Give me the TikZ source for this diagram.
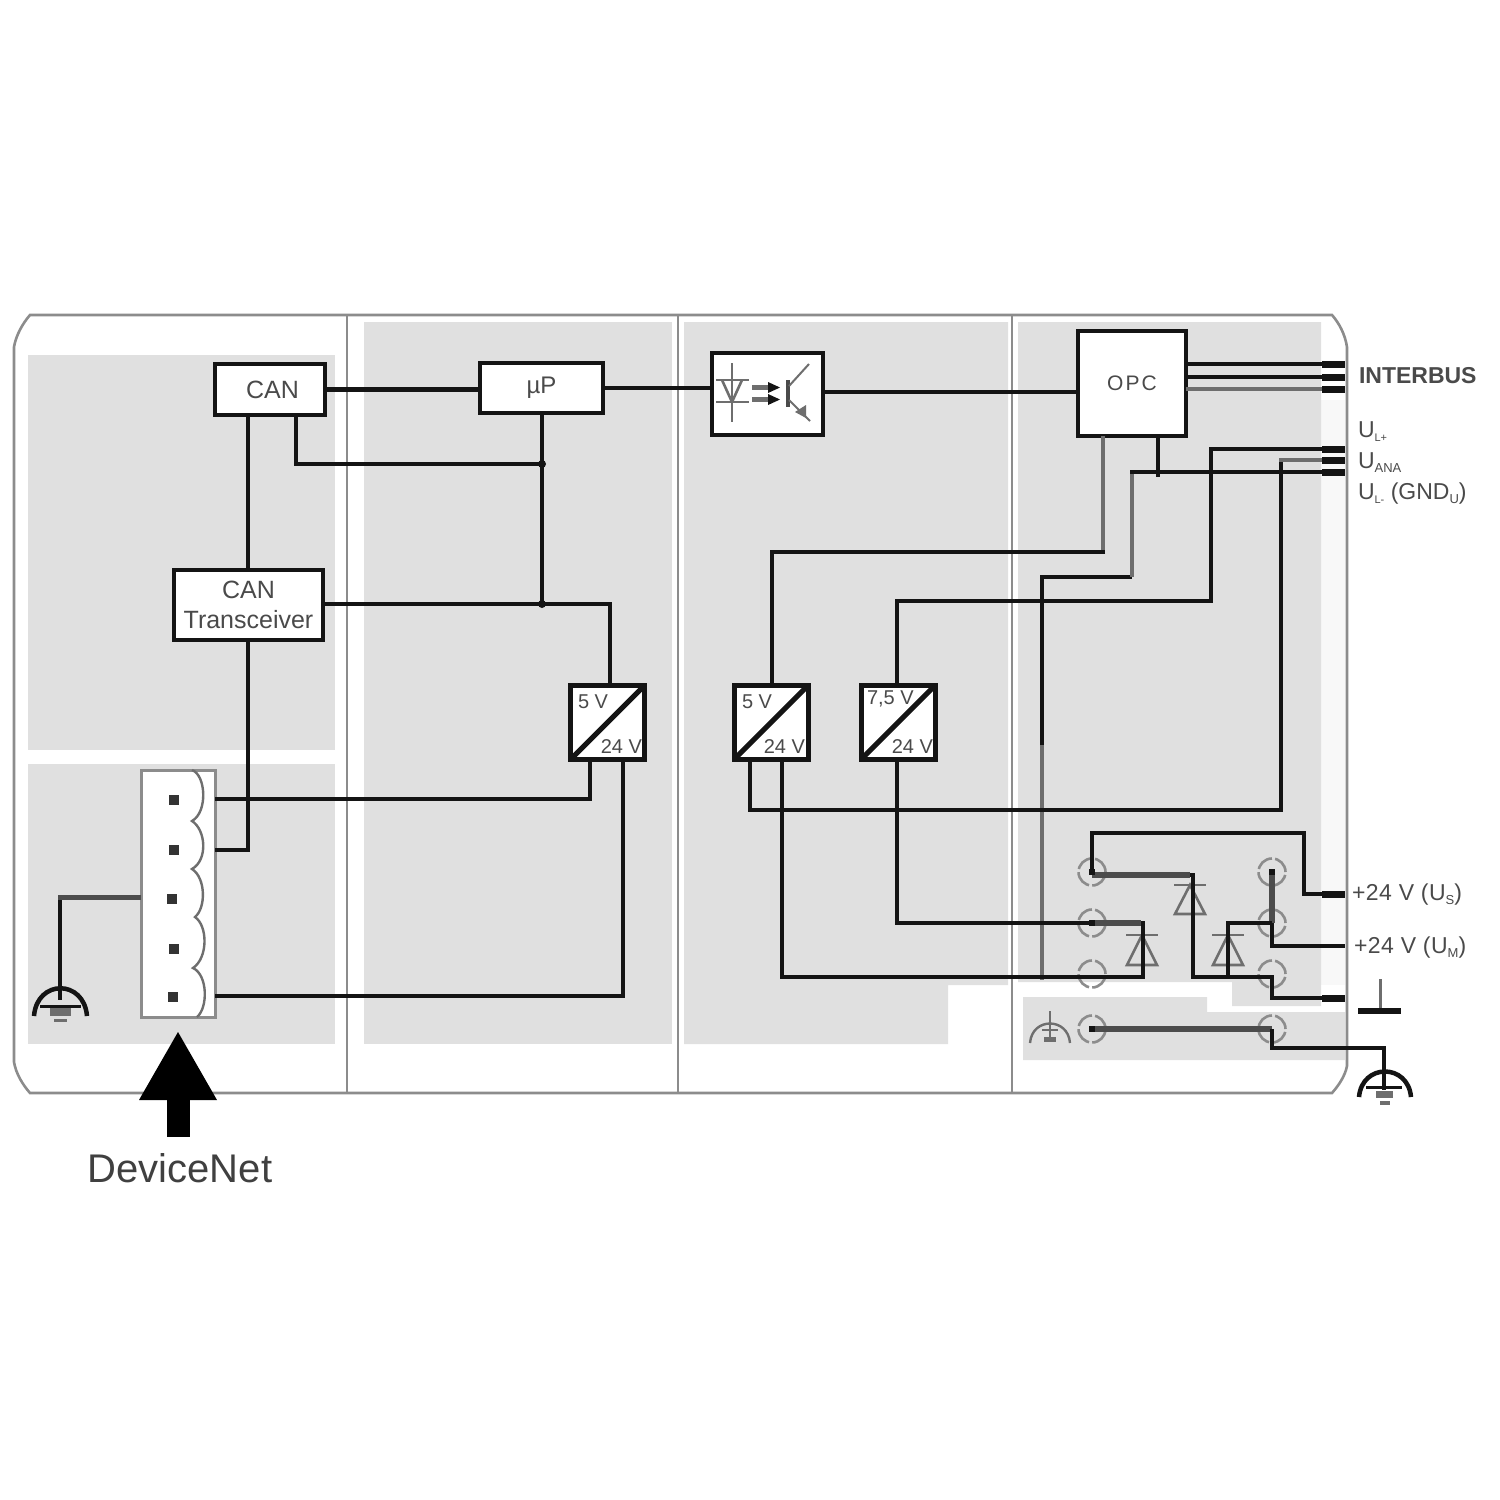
\documentclass[tikz,border=0pt]{standalone}
\usepackage{fontspec}
\setmainfont{Liberation Sans}
\definecolor{panel}{HTML}{E0E0E0}
\definecolor{panellight}{HTML}{F8F8F8}
\definecolor{frameg}{HTML}{8C8C8C}
\definecolor{inkk}{HTML}{141414}
\definecolor{textg}{HTML}{4A4A4A}
\definecolor{midg}{HTML}{6E6E6E}
\newcommand{\fsz}[1]{\fontsize{#1}{#1}\selectfont}
\tikzset{
  x=1pt,y=-1pt,
  wire/.style={draw=inkk,line width=4.2pt,line join=miter},
  thinwire/.style={draw=inkk,line width=3.4pt},
  softwire/.style={draw=midg,line width=4pt},
  heavy/.style={draw=black!70,line width=6pt},
  endblock/.style={draw=inkk,line width=7pt},
  frameline/.style={draw=frameg,line width=2.6pt},
  blockbox/.style={draw=inkk,fill=white,line width=4.5pt,inner sep=0pt,outer sep=0pt,text=textg,align=center},
  conv/.style={draw=inkk,fill=white,line width=5pt,minimum width=74pt,minimum height=74pt,inner sep=0pt,outer sep=0pt},
  terminal/.style={circle,draw=frameg,line width=2.6pt,dash pattern=on 18pt off 3.2pt,minimum size=27pt,inner sep=0pt,outer sep=0pt},
  pin/.style={fill=inkk,minimum size=6pt,inner sep=0pt,outer sep=0pt},
  conpin/.style={fill=black!80,minimum size=10pt,inner sep=0pt,outer sep=0pt},
  junction/.style={circle,fill=inkk,minimum size=8pt,inner sep=0pt},
  lab/.style={text=textg,inner sep=0pt,outer sep=0pt},
  diode/.style={draw=midg,line width=2.6pt,line join=miter},
}
\begin{document}
\begin{tikzpicture}
\useasboundingbox (0,0) rectangle (1500,1500);
\fill[white] (0,0) rectangle (1500,1500);
% ---- grey panels
\fill[panel] (28,355) rectangle (335,750);
\fill[panel] (28,764) rectangle (335,1044);
\fill[panel] (364,322) rectangle (672,1044);
\fill[panel] (684,322) -- (1008,322) -- (1008,985) -- (948,985) -- (948,1044) -- (684,1044) -- cycle;
\fill[panellight] (1321,400) rectangle (1345,985);
\fill[panel] (1018,322) -- (1321,322) -- (1321,1006) -- (1232,1006) -- (1232,982) -- (1018,982) -- cycle;
\fill[panel] (1023,997) -- (1207,997) -- (1207,1012) -- (1345,1012) -- (1345,1060) -- (1023,1060) -- cycle;
% ---- frame and dividers
\draw[frameline] (30,315) -- (1332,315) .. controls (1339,323) and (1345,334) .. (1347,347) -- (1347,1066) .. controls (1345,1076) and (1339,1085) .. (1332,1093) -- (30,1093) .. controls (23,1085) and (16,1074) .. (14,1062) -- (14,347) .. controls (16,335) and (23,323) .. (30,315) -- cycle;
\draw[frameline] (347,315) -- (347,1093);
\draw[frameline] (678,315) -- (678,1093);
\draw[frameline] (1012,315) -- (1012,1093);
% ---- coordinates at the right edge
\coordinate (ib1) at (1345,364);
\coordinate (ib2) at (1345,377);
\coordinate (ib3) at (1345,389);
\coordinate (ua) at (1345,449);
\coordinate (ub) at (1345,460);
\coordinate (uc) at (1345,472);
\coordinate (pus) at (1345,894);
\coordinate (pum) at (1345,946);
\coordinate (pgnd) at (1345,998);
% ---- blocks
\node[blockbox,minimum width=110pt,minimum height=51pt,font=\fsz{25}] (can) at (270,389.5) {\hspace*{5pt}CAN};
\node[blockbox,minimum width=123pt,minimum height=50pt,font=\fsz{24}] (up) at (541.5,388) {µP};
\node[blockbox,minimum width=111pt,minimum height=82pt] (opto) at (767.5,394) {};
\node[blockbox,minimum width=108pt,minimum height=105pt,font=\fsz{21}] (opc) at (1132,383.5) {\addfontfeature{LetterSpace=10}OPC};
\node[blockbox,minimum width=149pt,minimum height=70pt,font=\fontsize{25}{30}\selectfont] (trans) at (248.5,605) {CAN\\Transceiver};
\node[conv] (c1) at (607.5,722.5) {};
\node[conv] (c2) at (771,722.5) {};
\node[conv] (c3) at (898,722.5) {};
\node[draw=frameg,fill=white,line width=3pt,minimum width=74pt,minimum height=247pt,inner sep=0pt,outer sep=0pt] (con) at (178,893.5) {};
% ---- converter content
\draw[draw=inkk,line width=5pt] (c1.south west) -- (c1.north east);
\draw[draw=inkk,line width=5pt] (c2.south west) -- (c2.north east);
\draw[draw=inkk,line width=5pt] (c3.south west) -- (c3.north east);
\node[lab,anchor=west] (c1a) at (578,702) {\fsz{20}5 V};
\node[lab,anchor=east] (c1b) at (642,747) {\fsz{20}24 V};
\node[lab,anchor=west] (c2a) at (742,702) {\fsz{20}5 V};
\node[lab,anchor=east] (c2b) at (805,747) {\fsz{20}24 V};
\node[lab,anchor=west] (c3a) at (867,699) {\fsz{20}7,5 V};
\node[lab,anchor=east] (c3b) at (933,747) {\fsz{20}24 V};
% ---- optocoupler symbol
\draw[diode] (732,363) -- (732,422);
\draw[diode] (716,380) -- (749,380);
\draw[diode] (716,402) -- (749,402);
\draw[diode] (722,380) -- (732,402) -- (742,380);
\fill[midg] (752,385) rectangle (770,390);
\fill[midg] (752,397) rectangle (770,402);
\fill[inkk] (768,382) -- (780,387.5) -- (768,393) -- cycle;
\fill[inkk] (768,394) -- (780,399.5) -- (768,405) -- cycle;
\draw[draw=textg,line width=3.5pt] (788,380) -- (788,407);
\draw[draw=midg,line width=2pt] (789,386) -- (809,364);
\draw[draw=midg,line width=2pt] (789,400) -- (810,421);
\fill[midg] (795,412) -- (806,405) -- (806,418) -- cycle;
% ---- connector
\draw[draw=midg,line width=2.4pt] (192,770) .. controls (206,775) and (208,812) .. (192,821)
  .. controls (206,830) and (208,860) .. (192,869)
  .. controls (206,878) and (206,908) .. (195,917)
  .. controls (208,926) and (208,958) .. (193,968)
  .. controls (208,975) and (208,1008) .. (197,1017);
\node[conpin] (s1) at (174,800) {};
\node[conpin] (s2) at (174,850) {};
\node[conpin] (s3) at (172,899) {};
\node[conpin] (s4) at (174,949) {};
\node[conpin] (s5) at (173,997) {};
% ---- left and middle wiring
\draw[wire] (can.east) -- (can.east -| up.west);
\draw[wire] (up.east) -- (up.east -| opto.west);
\draw[wire] (opto.east |- 0,392) -- (opc.west |- 0,392);
\coordinate (j1) at (542,464);
\coordinate (j2) at (542,604);
\draw[wire] (can.south -| 296,0) -- (296,464) -- (j1);
\draw[wire] (up.south -| j1) -- (j2);
\draw[wire] (can.south -| 248,0) -- (trans.north -| 248,0);
\draw[wire] (trans.east |- j2) -- (610,604) -- (c1.north -| 610,0);
\draw[wire] (trans.south -| 248,0) -- (248,850) -- (con.east |- 0,850);
\draw[thinwire] (con.east |- 0,799) -- (590,799) -- (c1.south -| 590,0);
\draw[wire] (con.east |- 0,996) -- (623,996) -- (c1.south -| 623,0);
\node[junction] at (j1) {};
\node[junction] at (j2) {};
% ---- earth at left
\coordinate (eL) at (60,1000);
\draw[thinwire] (60,897) -- (eL);
\draw[draw=black!70,line width=5pt] (con.west |- 0,897) -- (58,897);
\draw[draw=inkk,line width=4.5pt] (34,1016) .. controls (37,979) and (84,979) .. (87,1016);
\draw[draw=inkk,line width=3pt] (40,1006) -- (81,1006);
\fill[midg] (50,1008) rectangle (71,1016);
\fill[midg] (54,1019) rectangle (67,1022);
% ---- arrow and caption
\node[fill=black,minimum width=23pt,minimum height=37pt,inner sep=0pt] (shaft) at (178.5,1118.5) {};
\fill[black] (178,1032) -- (217,1100) -- (139,1100) -- cycle;
\node[text=black!75,inner sep=0pt] (dn) at (180,1168) {\fsz{40}DeviceNet};
% ---- terminals
\node[terminal] (ta) at (1092,872) {};
\node[terminal] (tb) at (1092,923) {};
\node[terminal] (tc) at (1092,974) {};
\node[terminal] (td) at (1092,1029) {};
\node[terminal] (te) at (1272,872) {};
\node[terminal] (tf) at (1272,923) {};
\node[terminal] (tg) at (1272,974) {};
\node[terminal] (th) at (1272,1029) {};
% ---- diodes
\draw[diode] (1174,885) -- (1206,885);
\draw[diode] (1190,885) -- (1175,914) -- (1205,914) -- cycle;
\draw[diode] (1126,935) -- (1158,935);
\draw[diode] (1142,935) -- (1127,965) -- (1157,965) -- cycle;
\draw[diode] (1212,935) -- (1244,935);
\draw[diode] (1228,935) -- (1213,965) -- (1243,965) -- cycle;
% ---- right wiring
\draw[wire] (ib1 -| opc.east) -- (ib1);
\draw[thinwire] (ib2 -| opc.east) -- (ib2);
\draw[softwire] (ib3 -| opc.east) -- (ib3);
\draw[endblock] (1322,364) -- (ib1);
\draw[endblock] (1322,377) -- (ib2);
\draw[endblock] (1322,389) -- (ib3);
\draw[softwire] (opc.south -| 1103,0) -- (1103,552);
\draw[wire] (1105,552) -- (772,552) -- (c2.north -| 772,0);
\draw[wire] (c3.north -| 897,0) -- (897,601) -- (1211,601) -- (1211,449) -- (ua);
\draw[softwire] (1042,745) -- (1042,980);
\draw[thinwire] (1042,745) -- (1042,577) -- (1132,577);
\draw[softwire] (1132,577) -- (1132,472);
\draw[thinwire] (1130,472) -- (uc);
\draw[wire] (opc.south -| 1158,0) -- (1158,477);
\draw[wire] (c2.south -| 750,0) -- (750,810) -- (1281,810) -- (1281,458);
\draw[softwire] (1279,460) -- (ub);
\draw[endblock] (1322,449) -- (ua);
\draw[endblock] (1322,460) -- (ub);
\draw[endblock] (1322,472) -- (uc);
\draw[wire] (c3.south -| 897,0) -- (897,923) -- (tb.center) -- (1143,923) -- (1143,977) -- (782,977) -- (c2.south -| 782,0);
\draw[heavy] (tb.center) -- (1141,923);
\draw[wire] (ta.center) -- (1092,833) -- (1304,833) -- (1304,894) -- (pus);
\draw[endblock] (1322,894) -- (pus);
\coordinate (tak) at (1092,875);
\draw[wire] (tak) -- (1193,875) -- (1193,977) -- (1272,977) -- (1272,998) -- (pgnd);
\draw[heavy] (tak) -- (1190,875);
\draw[endblock] (1322,998) -- (pgnd);
\draw[wire] (te.center) -- (1272,946) -- (pum);
\draw[heavy] (te.center) -- (tf.center);
\draw[wire] (tf.center) -- (1228,923) -- (1228,977);
\draw[heavy] (td.center) -- (th.center);
\coordinate (eR) at (1384,1090);
\draw[wire] (th.center) -- (1272,1048) -- (1384,1048) -- (eR);
\node[pin] at (ta.center) {};
\node[pin] at (tb.center) {};
\node[pin] at (td.center) {};
\node[pin] at (te.center) {};
% ---- small panel earth
\draw[draw=midg,line width=2.4pt] (1050,1011) -- (1050,1038);
\draw[draw=midg,line width=2.4pt] (1030,1043) .. controls (1032,1017) and (1068,1017) .. (1070,1043);
\draw[draw=midg,line width=2.4pt] (1042,1030) -- (1058,1030);
\fill[midg] (1044,1037) rectangle (1056,1042);
% ---- right earth symbols
\draw[draw=inkk,line width=4.5pt] (1359,1097) .. controls (1362,1063) and (1408,1063) .. (1411,1097);
\draw[draw=inkk,line width=3pt] (1366,1087) -- (1402,1087);
\fill[midg] (1376,1091) rectangle (1393,1098);
\fill[midg] (1380,1101) rectangle (1390,1105);
\draw[draw=midg,line width=3pt] (1380,979) -- (1380,1010);
\draw[draw=inkk,line width=6pt] (1358,1011) -- (1401,1011);
% ---- right labels
\node[lab,anchor=west,font=\bfseries] (interbus) at (1359,376) {\fsz{23}INTERBUS};
\node[lab,anchor=base west] (ul) at (1358,437) {\fsz{23}U\raisebox{-4pt}{\fsz{11}L+}};
\node[lab,anchor=base west] (uana) at (1358,468) {\fsz{23}U\raisebox{-4pt}{\fsz{13}ANA}};
\node[lab,anchor=base west] (ugnd) at (1358,499) {\fsz{23}U\raisebox{-4pt}{\fsz{11}L-}\fsz{23} (GND\raisebox{-4pt}{\fsz{13}U})};
\node[lab,anchor=west] (us) at (1352,895) {\fsz{23}\addfontfeature{LetterSpace=2}+24 V (U\raisebox{-4pt}{\fsz{13}S})};
\node[lab,anchor=west] (um) at (1354,948) {\fsz{23}\addfontfeature{LetterSpace=2}+24 V (U\raisebox{-4pt}{\fsz{13}M})};
\end{tikzpicture}
\end{document}
